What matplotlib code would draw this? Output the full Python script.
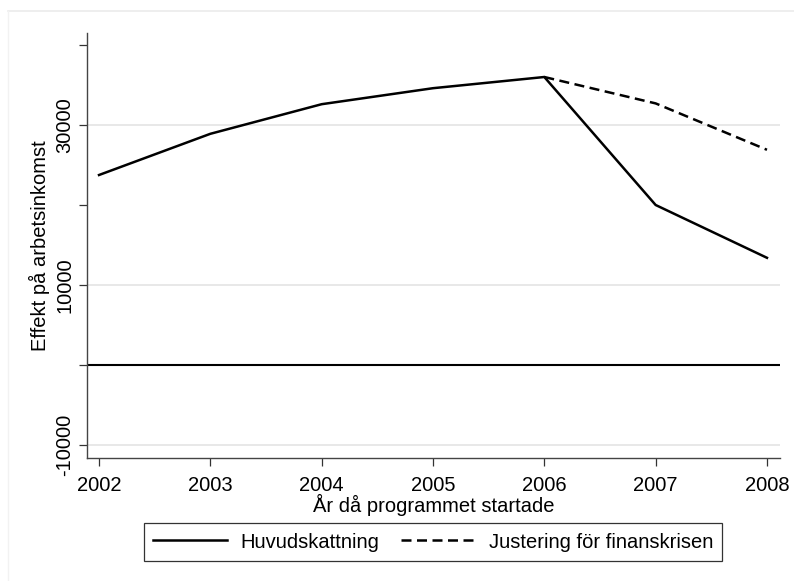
import matplotlib.pyplot as plt
from matplotlib.lines import Line2D

plt.rcParams['font.family'] = ['Liberation Sans', 'DejaVu Sans']

# data
years = [2002, 2003, 2004, 2005, 2006, 2007, 2008]
huvud = [23750, 28900, 32600, 34600, 36000, 20000, 13400]
just_years = [2006, 2007, 2008]
justering = [36000, 32700, 26900]

ytick_pos = [-10000, 0, 10000, 20000, 30000, 40000]
ytick_lab = ['-10000', '', '10000', '', '30000', '']
grid_y = [-10000, 10000, 30000]

fig = plt.figure(figsize=(7.94, 5.81), dpi=100)
ax = fig.add_axes([87 / 794, 1 - 458 / 581, (780 - 87) / 794, (458 - 33) / 581])

# faint outer frame
fig.add_artist(Line2D([8 / 794, 1], [1 - 11 / 581] * 2, color='#ebebeb', lw=1.2))
fig.add_artist(Line2D([8 / 794] * 2, [0, 1 - 11 / 581], color='#f2f2f2', lw=1.0))

for g in grid_y:
    ax.axhline(g, color='#e6e6e6', lw=1.3, zorder=0)
ax.axhline(0, color='black', lw=1.5, zorder=1)

ax.plot(years, huvud, color='black', lw=1.8, label='Huvudskattning', zorder=3)
ax.plot(just_years, justering, color='black', lw=1.8, ls=(0, (4.0, 2.2)),
        label='Justering för finanskrisen', zorder=2)

ax.set_xlim(2001.892, 2008.117)
ax.set_ylim(-11625, 41500)
ax.set_xticks(years)
ax.set_yticks(ytick_pos)
ax.set_yticklabels(ytick_lab, rotation=90, va='center')
ax.tick_params(axis='both', labelsize=14.5, width=0.9, color='#333333')
ax.tick_params(axis='y', length=6, pad=3)
ax.tick_params(axis='x', length=6, pad=7)

for s in ['top', 'right']:
    ax.spines[s].set_visible(False)
for s in ['left', 'bottom']:
    ax.spines[s].set_color('#444444')
    ax.spines[s].set_linewidth(1.0)

ax.set_ylabel('Effekt på arbetsinkomst', fontsize=14.5, labelpad=4)
ax.set_xlabel('År då programmet startade', fontsize=14.5, labelpad=-1)

leg = fig.legend(loc='center', bbox_to_anchor=(433 / 794, 1 - 542 / 581), ncol=2,
                 fontsize=14.5, frameon=True, fancybox=False, handlelength=3.7,
                 columnspacing=1.1, borderpad=0.45, handletextpad=0.65,
                 edgecolor='black', borderaxespad=0)
leg.get_frame().set_linewidth(0.9)

fig.savefig('out.png', dpi=100, facecolor='white')
